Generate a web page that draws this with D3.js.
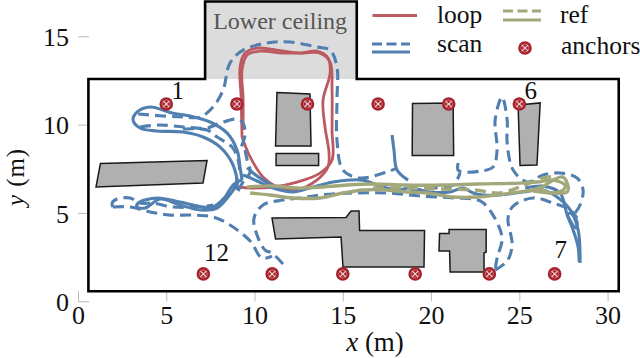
<!DOCTYPE html>
<html><head><meta charset="utf-8">
<script src="https://cdn.jsdelivr.net/npm/d3@7"></script>
<style>html,body{margin:0;padding:0;background:#fff}svg{display:block}text{font-family:"Liberation Serif",serif}</style>
</head><body><svg id="c" width="640" height="358"></svg>
<script>
const xTicks=[0,5,10,15,20,25,30], yTicks=[0,5,10,15];
const legendLabels=["loop","scan","ref","anchors"];
const roomOutline=[[0.59,0.57],[0.59,12.58],[7.2,12.58],[7.2,16.97],[15.79,16.97],[15.79,12.58],[30.63,12.58],[30.63,0.57]];
const lowerCeiling=[[7.2,12.58],[7.2,16.97],[15.79,16.97],[15.79,12.58]];
const obstacles=[
 [[1.27,7.8],[7.31,7.97],[7.08,6.69],[1.02,6.47]],
 [[11.27,11.82],[13.14,11.73],[13.2,8.79],[11.19,8.79]],
 [[11.22,8.37],[13.63,8.37],[13.63,7.69],[11.22,7.69]],
 [[18.95,11.2],[21.25,11.23],[21.28,8.25],[18.93,8.25]],
 [[24.93,11.11],[26.18,11.23],[26,7.71],[25.04,7.69]],
 [[10.99,4.71],[15.18,4.74],[15.47,5.11],[15.92,5.11],[15.95,4.01],[19.63,4.01],[19.6,1.94],[15.01,1.94],[14.9,3.64],[11.19,3.53]],
 [[20.48,3.84],[21.02,3.84],[21.02,4.06],[23.12,4.06],[23.12,2.79],[23,2.73],[23,1.66],[21.08,1.66],[21.05,2.85],[20.45,2.85]]
];
const anchors=[[5,11.17],[9,11.17],[13,11.17],[17,11.17],[21,11.17],[25,11.17],[27,1.55],[23.3,1.55],[19.1,1.55],[15,1.55],[11,1.55],[7.1,1.55]];
const anchorLabels=[{t:"1",x:5.65,y:11.45},{t:"6",x:25.65,y:11.45},{t:"7",x:27.35,y:2.45},{t:"12",x:7.85,y:2.3}];

const loopA=[[9.29,9.3],[9.24,11.56],[9.18,13.26],[9.46,14.05],[10.14,14.33],[11.27,14.22],[12.58,14.05],[13.54,14.16],[14.16,13.77],[14.28,12.92],[13.88,11.39],[13.99,9.87],[14.22,8.4],[14.16,7.6],[13.54,6.87],[12.41,6.3],[11.44,6.41],[10.48,7.04],[9.75,8.17],[9.29,9.3]];
const loopB=[[9.35,9.69],[9.35,11.56],[9.29,13.09],[9.58,13.94],[10.31,14.16],[11.61,14.05],[12.75,14.05],[13.71,14.05],[14.28,13.54],[14.39,11.96],[14.39,9.69],[14.39,8],[13.71,7.26],[12.41,6.75],[11.05,6.47],[9.75,6.41],[9.07,6.47]];

const scanSolid1=[[9.01,6.3],[9.01,6.87],[8.73,7.83],[8.05,8.73],[7.08,9.3],[5.95,9.58],[4.48,9.64],[3.51,9.81],[3.12,10.26],[3.34,10.71],[4.08,11],[5.33,10.66],[6.35,10.49],[7.48,10.15],[8.44,9.53],[9.01,8.56],[9.18,7.6],[9.29,6.87]];
const scanSolid2=[[9.29,6.87],[8.78,6.58],[8.33,5.9],[7.65,5.34],[7.08,5.34],[5.78,5.62],[4.48,5.85],[3.4,5.56],[3.34,5.34],[3.8,5.28],[4.65,5.79],[5.78,5.45],[6.92,5.17],[7.88,5.28],[8.5,5.9],[8.9,6.47],[9.01,6.98]];
const scanSolid3=[[9.35,7.15],[9.92,6.92],[10.88,6.47],[12.18,6.19],[13.14,6.41],[14.45,6.75],[16.15,6.86],[16.94,6.58],[18.07,6.3],[18.81,6.41],[19.94,6.19],[21.08,6.19],[21.81,6.41],[22.38,6.13],[22.95,6.02],[23.91,6.02],[25.21,6.19],[26.35,6.3],[27.14,5.9],[27.88,5.17],[28.33,4.04],[28.44,2.17]];
const scanSolid4=[[25.33,6.41],[26.35,6.52],[27.31,6.13],[27.71,4.88],[28.05,4.04],[28.33,3.07],[28.39,2.22]];
const scanSolid5=[[27.71,4.88],[27.88,5],[28.27,4.5],[28.2,4.15],[27.71,4.88]];
const scanSolid6=[[9.58,7.56],[9.92,7.26],[10.48,6.86],[11.16,6.47]];
const scanSolid7=[[17.79,9.41],[17.9,8.56],[18.07,7.43],[18.7,6.86]];

const scanDash1=[[3.4,10.6],[4.82,10.49],[5.95,10.43],[6.92,10.43],[7.65,11],[8.22,11.96],[8.61,13.49],[9.35,14.22],[10.71,14.62],[12.01,14.68],[13.54,14.39],[14.28,14.22],[14.67,13.26],[14.67,11.39],[14.67,9.13],[15.01,7.43],[15.97,6.98],[17.5,7.32],[18.07,7.54]];
const scanDash2=[[3.51,9.87],[4.65,9.98],[5.95,9.87],[7.31,9.81],[8.05,10.09],[9.01,10.31],[9.35,10.09],[9.46,9.41],[9.24,8.73]];
const scanDash3=[[5.95,9.75],[7.31,9.7],[7.88,9.3],[8.73,8.73],[9.07,8],[9.18,7.15]];
const scanDash4=[[9.46,8.56],[9.58,8],[9.75,7.32],[9.35,6.75],[8.95,6.02]];
const scanDash5=[[1.98,5.34],[1.93,5.56],[2.21,5.79],[2.95,5.85],[3.51,5.56],[4.25,5.56],[5.38,5.34],[6.74,5.34],[7.65,5.45]];
const scanDash6=[[1.98,5.34],[2.95,5.34],[4.08,5.06],[5.21,4.88],[6.52,4.88],[7.65,4.77],[8.61,4.32],[9.75,3.41],[10.42,2.45],[10.99,2.56]];
const scanDash7=[[11.61,2.11],[10.99,2.73],[10.6,2.9],[10.14,3.75],[9.97,4.71],[10.48,5.45],[11.61,5.73],[12.58,5.85],[13.71,6.02],[15.58,6.13],[17.5,6.13],[19.38,5.96],[21.25,5.85],[22.78,5.68],[23.51,4.88],[24.02,3.58],[23.74,2.45],[23.63,1.77]];
const scanDash8=[[23.63,1.77],[24.31,2.28],[24.59,3.19],[24.36,4.71],[24.65,5.39],[25.78,5.85],[26.91,5.56],[27.88,5.17],[28.27,4.71]];
const scanDash9=[[21.53,7.83],[21.53,7.43],[21.81,7.32],[22.78,7.37],[23.51,7.6],[23.74,8.56],[23.63,10.26],[24.02,11.56],[24.31,10.26],[24.31,8.96],[24.65,7.43],[25.44,6.75],[26.35,7.15],[27.31,7.26],[28.27,6.98],[28.61,6.3],[28.44,5.45],[28.16,5]];
const scanDash10=[[18.81,6.24],[19.94,6.41],[21.25,6.58],[21.64,7.26]];

const refSolid1=[[9.58,6.47],[11.05,6.53],[12.41,6.41],[13.88,6.47],[15.24,6.58],[16.71,6.64],[18.41,6.58],[20.71,6.58],[22.64,6.64],[25.04,6.69],[26.01,6.75],[26.91,6.86],[27.59,6.58],[27.48,6.3],[26.74,6.13],[26.01,6.47]];
const refSolid2=[[9.75,6.13],[10.88,6.02],[12.18,5.85],[13.71,5.85],[15.01,6.13],[16.15,6.3],[17.5,6.3],[18.64,6.19],[19.77,6.13],[21.25,5.9],[22.64,5.9],[23.74,6.02],[25.04,6.19],[26.18,6.41],[26.74,6.75],[27.42,7.04],[27.71,6.69],[27.71,6.19],[26.91,6.13],[25.78,6.24]];
const refDash=[[16.71,6.41],[18.64,6.41],[20.5,6.36],[22.49,6.3],[23.91,6.13],[25.04,6.47],[26.35,6.98],[27.14,7.09]];

const BLUE="#5180b0",RED="#bb5a60",OLIVE="#a3a87a",ANCH="#a8222b",INK="#111";
const svg=d3.select("#c");
const x=d3.scaleLinear().domain([0,30]).range([78,607.6]);
const y=d3.scaleLinear().domain([0,15]).range([301.3,36.3]);
const poly=p=>d3.line().x(d=>x(d[0])).y(d=>y(d[1]))(p);
const curve=d3.line().x(d=>x(d[0])).y(d=>y(d[1])).curve(d3.curveCatmullRom.alpha(0.5));

// axes
const ax=d3.axisBottom(x).tickValues(xTicks).tickFormat(d3.format("d")).tickSizeOuter(0).tickSizeInner(-10).tickPadding(4);
const ay=d3.axisLeft(y).tickValues(yTicks).tickFormat(d3.format("d")).tickSizeOuter(0).tickSizeInner(-11).tickPadding(9);
const gx=svg.append("g").attr("transform","translate(0,301.3)").call(ax);
const gy=svg.append("g").attr("transform","translate(78,0)").call(ay);
[gx,gy].forEach(g=>{g.select(".domain").remove();g.selectAll("line").attr("stroke","#bbb").attr("stroke-width",1);
 g.selectAll("text").attr("font-size",26).attr("fill",INK).attr("font-family","Liberation Serif");});
gx.selectAll("text").attr("dy","0.72em");
gy.selectAll("text").attr("dy","0.35em");

// room
svg.append("path").attr("d",poly(lowerCeiling)+"Z").attr("fill","#dcdcdc");
svg.append("path").attr("d",poly(roomOutline)+"Z").attr("fill","none").attr("stroke","#000").attr("stroke-width",2.6);
svg.append("text").attr("x",x(11.45)).attr("y",29).attr("text-anchor","middle").attr("font-size",24).attr("fill","#555").text("Lower ceiling");

svg.append("g").selectAll("path").data(obstacles).join("path").attr("d",d=>poly(d)+"Z").attr("fill","#b0b0b0").attr("stroke","#1a1a1a").attr("stroke-width",1.5);

function draw(list,color,w,dash){svg.append("g").selectAll("path").data(list).join("path").attr("d",curve).attr("fill","none").attr("stroke",color).attr("stroke-width",w).attr("stroke-linecap","butt").attr("stroke-linejoin","round").attr("stroke-dasharray",dash||null);}
draw([loopA,loopB],RED,2.8);
draw([scanDash1,scanDash2,scanDash3,scanDash4,scanDash5,scanDash6,scanDash7,scanDash8,scanDash9,scanDash10],BLUE,3.1,"11 6");
draw([scanSolid1,scanSolid2,scanSolid3,scanSolid4,scanSolid5,scanSolid6,scanSolid7],BLUE,3.1);
draw([refSolid1,refSolid2],OLIVE,3.4);
draw([refDash],OLIVE,3.4,"11 6");

function marker(g,cx,cy){
 g=g.append("g").attr("transform",`translate(${cx},${cy})`);
 g.append("circle").attr("r",6.8).attr("fill",ANCH);
 g.append("circle").attr("r",4).attr("fill","none").attr("stroke","#d9a0a2").attr("stroke-width",0.6);
 [[-2.9,-2.9,2.9,2.9],[-2.9,2.9,2.9,-2.9]].forEach(l=>g.append("line").attr("x1",l[0]).attr("y1",l[1]).attr("x2",l[2]).attr("y2",l[3]).attr("stroke","#f3dcdc").attr("stroke-width",1.1));
}
const ga=svg.append("g");
anchors.forEach(d=>marker(ga,x(d[0]),y(d[1])));
svg.append("g").selectAll("text").data(anchorLabels).join("text").attr("x",d=>x(d.x)).attr("y",d=>y(d.y)).attr("text-anchor","middle").attr("font-size",25).attr("fill",INK).text(d=>d.t);

// axis titles
const tx=svg.append("text").attr("x",375).attr("y",351).attr("text-anchor","middle").attr("font-size",27).attr("fill",INK);
tx.append("tspan").attr("font-style","italic").text("x");tx.append("tspan").text(" (m)");
const ty=svg.append("text").attr("transform","translate(24,177) rotate(-90)").attr("text-anchor","middle").attr("font-size",25).attr("letter-spacing",0.9).attr("fill",INK);
ty.append("tspan").attr("font-style","italic").text("y");ty.append("tspan").text(" (m)");

// legend
const L=svg.append("g");
const seg=(x1,x2,yy,c,dash)=>L.append("line").attr("x1",x1).attr("x2",x2).attr("y1",yy).attr("y2",yy).attr("stroke",c).attr("stroke-width",3).attr("stroke-dasharray",dash||null);
seg(372.5,417,15.5,RED);
seg(372,410,44,BLUE,"10 4.5");seg(372,410,52,BLUE);
seg(503,541,11,OLIVE,"10 4.5");seg(503,541,20,OLIVE);
marker(L,525,48);
const lt=(s,px,py)=>L.append("text").attr("x",px).attr("y",py).attr("font-size",25.5).attr("fill",INK).text(s);
lt(legendLabels[0],437,23);lt(legendLabels[1],437,52);lt(legendLabels[2],560,23);lt(legendLabels[3],561,54);
</script></body></html>
